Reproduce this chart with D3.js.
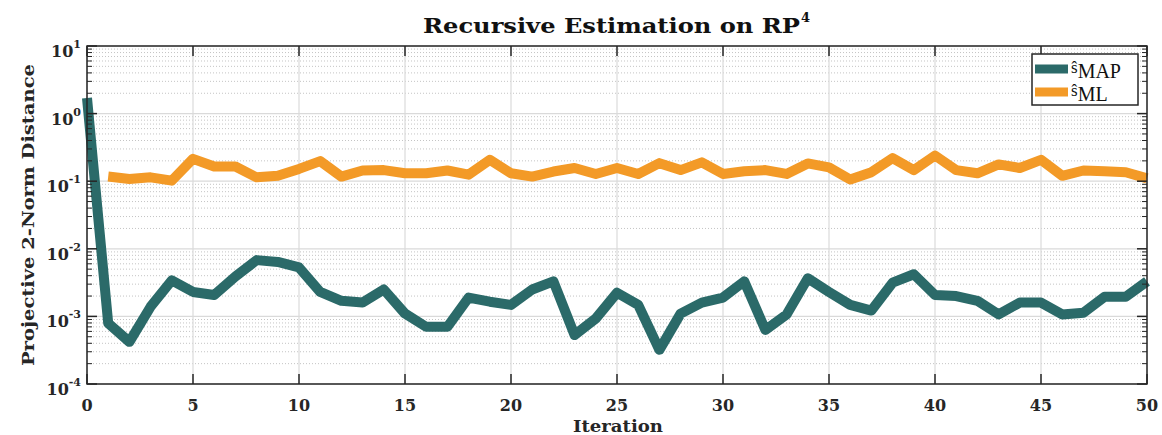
<!DOCTYPE html>
<html>
<head>
<meta charset="utf-8">
<script src="https://cdn.jsdelivr.net/npm/d3@7"></script>
<style>
  html, body { margin: 0; padding: 0; background: #fff; }
  svg { display: block; }
</style>
</head>
<body>
<svg id="chart" width="1162" height="435"></svg>
<script>
// ---- data ----
const mapIterations = [0,1,2,3,4,5,6,7,8,9,10,11,12,13,14,15,16,17,18,19,20,21,22,23,24,25,26,27,28,29,30,31,32,33,34,35,36,37,38,39,40,41,42,43,44,45,46,47,48,49,50];
const mapValues = [1.7, 7.9e-4, 4.2e-4, 1.39e-3, 3.4e-3, 2.3e-3, 2.07e-3, 3.9e-3, 6.8e-3, 6.4e-3,
  5.3e-3, 2.3e-3, 1.7e-3, 1.6e-3, 2.5e-3, 1.1e-3, 7.0e-4, 7.0e-4, 1.9e-3, 1.65e-3,
  1.48e-3, 2.5e-3, 3.3e-3, 5.3e-4, 9.3e-4, 2.24e-3, 1.48e-3, 3.2e-4, 1.1e-3, 1.6e-3,
  1.9e-3, 3.3e-3, 6.3e-4, 1.07e-3, 3.66e-3, 2.3e-3, 1.48e-3, 1.22e-3, 3.15e-3, 4.2e-3,
  2.07e-3, 2.0e-3, 1.7e-3, 1.07e-3, 1.6e-3, 1.6e-3, 1.07e-3, 1.13e-3, 1.95e-3, 1.95e-3, 3.3e-3];
const mlIterations = [1,2,3,4,5,6,7,8,9,10,11,12,13,14,15,16,17,18,19,20,21,22,23,24,25,26,27,28,29,30,31,32,33,34,35,36,37,38,39,40,41,42,43,44,45,46,47,48,49,50];
const mlValues = [0.117, 0.108, 0.114, 0.102, 0.214, 0.165, 0.165, 0.114, 0.12, 0.152,
  0.198, 0.117, 0.144, 0.146, 0.131, 0.131, 0.144, 0.125, 0.207, 0.131,
  0.117, 0.139, 0.157, 0.128, 0.157, 0.128, 0.185, 0.146, 0.19, 0.128,
  0.14, 0.146, 0.128, 0.183, 0.16, 0.106, 0.136, 0.219, 0.146, 0.24,
  0.146, 0.131, 0.177, 0.157, 0.207, 0.12, 0.144, 0.14, 0.136, 0.11];
const xTicks = [0,5,10,15,20,25,30,35,40,45,50];
const yTickExponents = [-4,-3,-2,-1,0,1];
const seriesNames = ["MAP", "ML"];
const titleText = "Recursive Estimation on RP";
const titleSup = "4";
const xLabel = "Iteration";
const yLabel = "Projective 2-Norm Distance";

// ---- layout ----
const svg = d3.select("#chart");
const L = 87, R = 1147, T = 46, B = 384;
const colors = ["#2b6a69", "#f39a27"];
const axisColor = "#262626";
const serif = "'DejaVu Serif', 'Liberation Serif', serif";

const x = d3.scaleLinear().domain([0, 50]).range([L, R]);
const y = d3.scaleLog().domain([1e-4, 10]).range([B, T]);

const majorY = yTickExponents.map(e => Math.pow(10, e));
const allY = y.ticks();
const minorY = allY.filter(v => {
  const l = Math.log10(v);
  return Math.abs(l - Math.round(l)) > 1e-6;
});

// minor grid (dotted)
svg.append("g").selectAll("line").data(minorY).join("line")
  .attr("x1", L).attr("x2", R)
  .attr("y1", d => y(d)).attr("y2", d => y(d))
  .attr("stroke", "#c4c4c4").attr("stroke-width", 1)
  .attr("stroke-dasharray", "1,2");

// major grid
svg.append("g").selectAll("line").data(majorY).join("line")
  .attr("x1", L).attr("x2", R)
  .attr("y1", d => y(d)).attr("y2", d => y(d))
  .attr("stroke", "#dadada").attr("stroke-width", 1.2);
svg.append("g").selectAll("line").data(xTicks).join("line")
  .attr("x1", d => x(d)).attr("x2", d => x(d))
  .attr("y1", T).attr("y2", B)
  .attr("stroke", "#dadada").attr("stroke-width", 1.2);

// series lines
const line = d3.line().x(d => x(d[0])).y(d => y(d[1]));
const mapData = mapIterations.map((it, i) => [it, mapValues[i]]);
const mlData = mlIterations.map((it, i) => [it, mlValues[i]]);

svg.append("path").datum(mlData)
  .attr("d", line).attr("fill", "none")
  .attr("stroke", colors[1]).attr("stroke-width", 10)
  .attr("stroke-linejoin", "round");
svg.append("path").datum(mapData)
  .attr("d", line).attr("fill", "none")
  .attr("stroke", colors[0]).attr("stroke-width", 10)
  .attr("stroke-linejoin", "round");

// axes box
svg.append("rect").attr("x", L).attr("y", T).attr("width", R - L).attr("height", B - T)
  .attr("fill", "none").attr("stroke", axisColor).attr("stroke-width", 1.5);

// x ticks (inside, bottom and top)
const xt = svg.append("g");
xt.selectAll("line.b").data(xTicks).join("line").attr("class", "b")
  .attr("x1", d => x(d)).attr("x2", d => x(d)).attr("y1", B).attr("y2", B - 10)
  .attr("stroke", axisColor).attr("stroke-width", 1.5);
xt.selectAll("line.t").data(xTicks).join("line").attr("class", "t")
  .attr("x1", d => x(d)).attr("x2", d => x(d)).attr("y1", T).attr("y2", T + 10)
  .attr("stroke", axisColor).attr("stroke-width", 1.5);
xt.selectAll("text").data(xTicks).join("text")
  .attr("x", d => x(d)).attr("y", 411)
  .attr("text-anchor", "middle")
  .attr("font-family", serif).attr("font-weight", "bold").attr("font-size", 16)
  .attr("fill", axisColor)
  .text(d => d);

// y ticks
const yt = svg.append("g");
[[L, 1], [R, -1]].forEach(([x0, dir]) => {
  yt.append("g").selectAll("line").data(majorY).join("line")
    .attr("x1", x0).attr("x2", x0 + dir * 10)
    .attr("y1", d => y(d)).attr("y2", d => y(d))
    .attr("stroke", axisColor).attr("stroke-width", 1.5);
  yt.append("g").selectAll("line").data(minorY).join("line")
    .attr("x1", x0).attr("x2", x0 + dir * 5)
    .attr("y1", d => y(d)).attr("y2", d => y(d))
    .attr("stroke", axisColor).attr("stroke-width", 1);
});
const ylab = yt.append("g").selectAll("text").data(yTickExponents).join("text")
  .attr("x", 81).attr("y", d => y(Math.pow(10, d)) + 11)
  .attr("text-anchor", "end")
  .attr("font-family", serif).attr("font-weight", "bold").attr("font-size", 16)
  .attr("fill", axisColor);
ylab.append("tspan").text("10");
ylab.append("tspan").attr("dy", -9).attr("font-size", 11).text(d => (d < 0 ? "-" : "") + Math.abs(d));

// title
svg.append("text")
  .attr("x", 423).attr("y", 33)
  .attr("font-family", serif).attr("font-weight", "bold").attr("font-size", 21)
  .attr("textLength", 377).attr("lengthAdjust", "spacingAndGlyphs")
  .attr("fill", "#111")
  .text(titleText);
svg.append("text")
  .attr("x", 801).attr("y", 22)
  .attr("font-family", serif).attr("font-weight", "bold").attr("font-size", 13)
  .attr("fill", "#111")
  .text(titleSup);

// axis labels
svg.append("text")
  .attr("x", 618).attr("y", 432)
  .attr("text-anchor", "middle")
  .attr("font-family", serif).attr("font-weight", "bold").attr("font-size", 17)
  .attr("textLength", 90).attr("lengthAdjust", "spacingAndGlyphs")
  .attr("fill", axisColor)
  .text(xLabel);
svg.append("text")
  .attr("transform", "translate(34,215) rotate(-90)")
  .attr("text-anchor", "middle")
  .attr("font-family", serif).attr("font-weight", "bold").attr("font-size", 17)
  .attr("textLength", 302).attr("lengthAdjust", "spacingAndGlyphs")
  .attr("fill", axisColor)
  .text(yLabel);

// legend
const lg = svg.append("g");
lg.append("rect").attr("x", 1032).attr("y", 54).attr("width", 106).attr("height", 51)
  .attr("fill", "#fff").attr("stroke", axisColor).attr("stroke-width", 1.5);
seriesNames.forEach((name, i) => {
  const cy = 69 + i * 23;
  lg.append("line").attr("x1", 1035).attr("x2", 1068).attr("y1", cy).attr("y2", cy)
    .attr("stroke", colors[i]).attr("stroke-width", 9);
  const t = lg.append("text").attr("x", 1071).attr("y", cy + 4)
    .attr("font-family", "'Liberation Serif', serif").attr("font-size", 17)
    .attr("fill", "#111");
  t.append("tspan").text("\u015D");
  t.append("tspan").attr("dy", 5).attr("font-size", 20).text(name);
});
</script>
</body>
</html>
